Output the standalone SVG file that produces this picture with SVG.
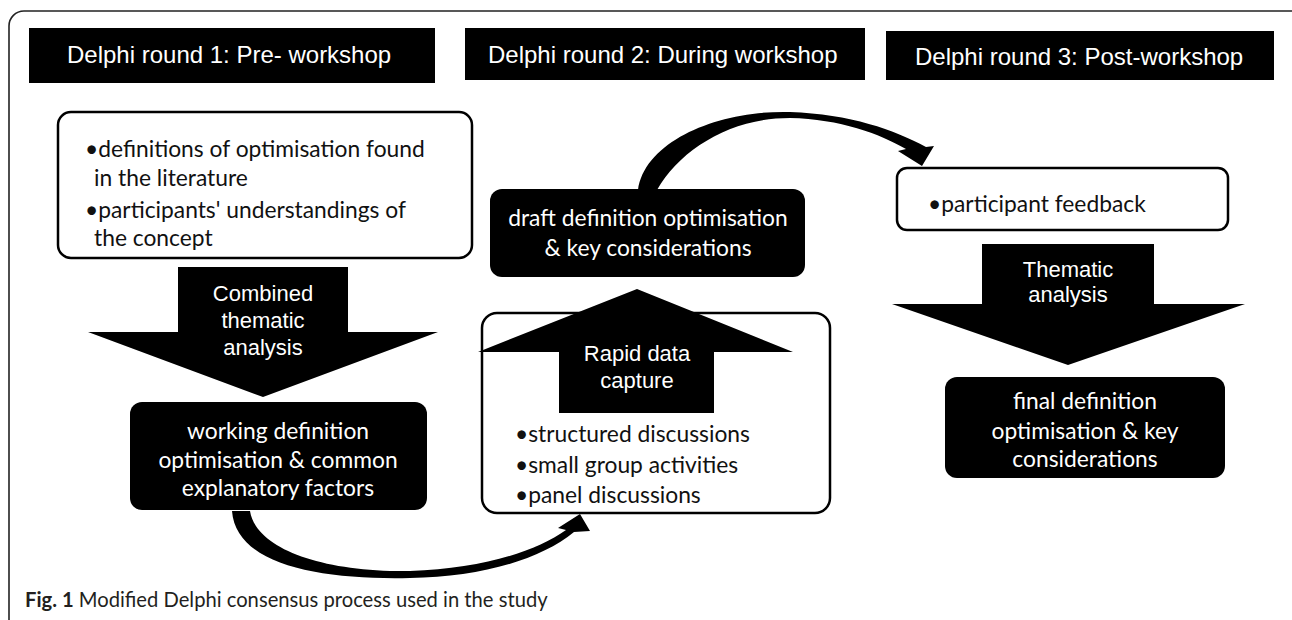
<svg xmlns="http://www.w3.org/2000/svg" width="1292" height="620" viewBox="0 0 1292 620">
<style>
.hdr{fill:#000}
.hdrtxt{font-family:"Liberation Sans",Arial,sans-serif;font-size:24px;fill:#fff}
.wbox{fill:#fff;stroke:#000;stroke-width:2.5}
.bbox{fill:#000}
.cal{font-family:Lato,"Open Sans",sans-serif;font-size:22.8px}
.blk{fill:#111}
.wt{fill:#fff}
.arrtxt{font-family:"Liberation Sans",Arial,sans-serif;font-size:22px;fill:#fff;text-anchor:middle}
.mid{text-anchor:middle}
.cap{font-family:Lato,"Open Sans",sans-serif;font-size:20.2px;fill:#231f20}
</style>
<rect x="9" y="11" width="1300" height="660" rx="15" fill="#fff" stroke="#222" stroke-width="1.6"/>

<g id="header1"><rect class="hdr" x="29" y="28" width="406" height="55"/><text class="hdrtxt" x="67" y="63">Delphi round 1: Pre- workshop</text></g>
<g id="header2"><rect class="hdr" x="465" y="28" width="400" height="52"/><text class="hdrtxt" x="488" y="63">Delphi round 2: During workshop</text></g>
<g id="header3"><rect class="hdr" x="886" y="31" width="388" height="49"/><text class="hdrtxt" x="915" y="65">Delphi round 3: Post-workshop</text></g>

<g id="sources1"><rect class="wbox" x="58" y="112" width="414" height="146" rx="13"/>
<text class="cal blk"><tspan x="85" y="157">•definitions of optimisation found</tspan><tspan x="94" y="186">in the literature</tspan><tspan x="85" y="218">•participants' understandings of</tspan><tspan x="94" y="246">the concept</tspan></text></g>

<g id="working"><rect class="bbox" x="130" y="402" width="297" height="108" rx="12"/>
<text class="cal wt mid"><tspan x="278" y="439">working definition</tspan><tspan x="278" y="468">optimisation &amp; common</tspan><tspan x="278" y="496">explanatory factors</tspan></text></g>

<g id="sources2"><rect class="wbox" x="482" y="313" width="348" height="200" rx="15"/>
<text class="cal blk"><tspan x="515" y="442">•structured discussions</tspan><tspan x="515" y="473">•small group activities</tspan><tspan x="515" y="503">•panel discussions</tspan></text></g>

<g id="draft"><rect class="bbox" x="490" y="189" width="315" height="88" rx="12"/>
<text class="cal wt mid"><tspan x="648" y="226">draft definition optimisation</tspan><tspan x="648" y="256">&amp; key considerations</tspan></text></g>

<g id="sources3"><rect class="wbox" x="897" y="168" width="331" height="62" rx="10"/>
<text class="cal blk"><tspan x="928" y="212">•participant feedback</tspan></text></g>

<g id="final"><rect class="bbox" x="945" y="377" width="280" height="101" rx="12"/>
<text class="cal wt mid"><tspan x="1085" y="409">final definition</tspan><tspan x="1085" y="439">optimisation &amp; key</tspan><tspan x="1085" y="467">considerations</tspan></text></g>

<g id="connectors">
<g id="arrow-combined"><polygon fill="#000" points="178,267 348,267 348,332 438,332 263,397 88,332 178,332"/>
<text class="arrtxt"><tspan x="263" y="301">Combined</tspan><tspan x="263" y="328">thematic</tspan><tspan x="263" y="355">analysis</tspan></text></g>
<g id="arrow-rapid"><polygon fill="#000" points="559,413 714,413 714,352 793,352 637,289 478,352 559,352"/>
<text class="arrtxt"><tspan x="637" y="361">Rapid data</tspan><tspan x="637" y="388">capture</tspan></text></g>
<g id="arrow-thematic"><polygon fill="#000" points="982,244 1154,244 1154,304 1245,304 1068,365 892,304 982,304"/>
<text class="arrtxt"><tspan x="1068" y="277">Thematic</tspan><tspan x="1068" y="302">analysis</tspan></text></g>
<path id="curve-bottom" fill="#000" d="M 232 511 C 236 565, 320 580, 410 578 C 480 577, 540 560, 574 532 L 590 531 L 580 514 L 558 528 L 566 530 C 535 552, 480 569, 410 571 C 320 572, 256 548, 250 511 Z"/>
<path id="curve-top" fill="#000" d="M 638 190 C 645 140, 720 110, 790 112 C 850 114, 895 130, 926 147 L 934 146 L 922 166 L 898 151 L 906 149 C 880 134, 840 119, 790 118 C 730 118, 680 150, 657 190 Z"/>
</g>

<text class="cap" x="25" y="607"><tspan font-weight="bold">Fig. 1</tspan> Modified Delphi consensus process used in the study</text>
</svg>
